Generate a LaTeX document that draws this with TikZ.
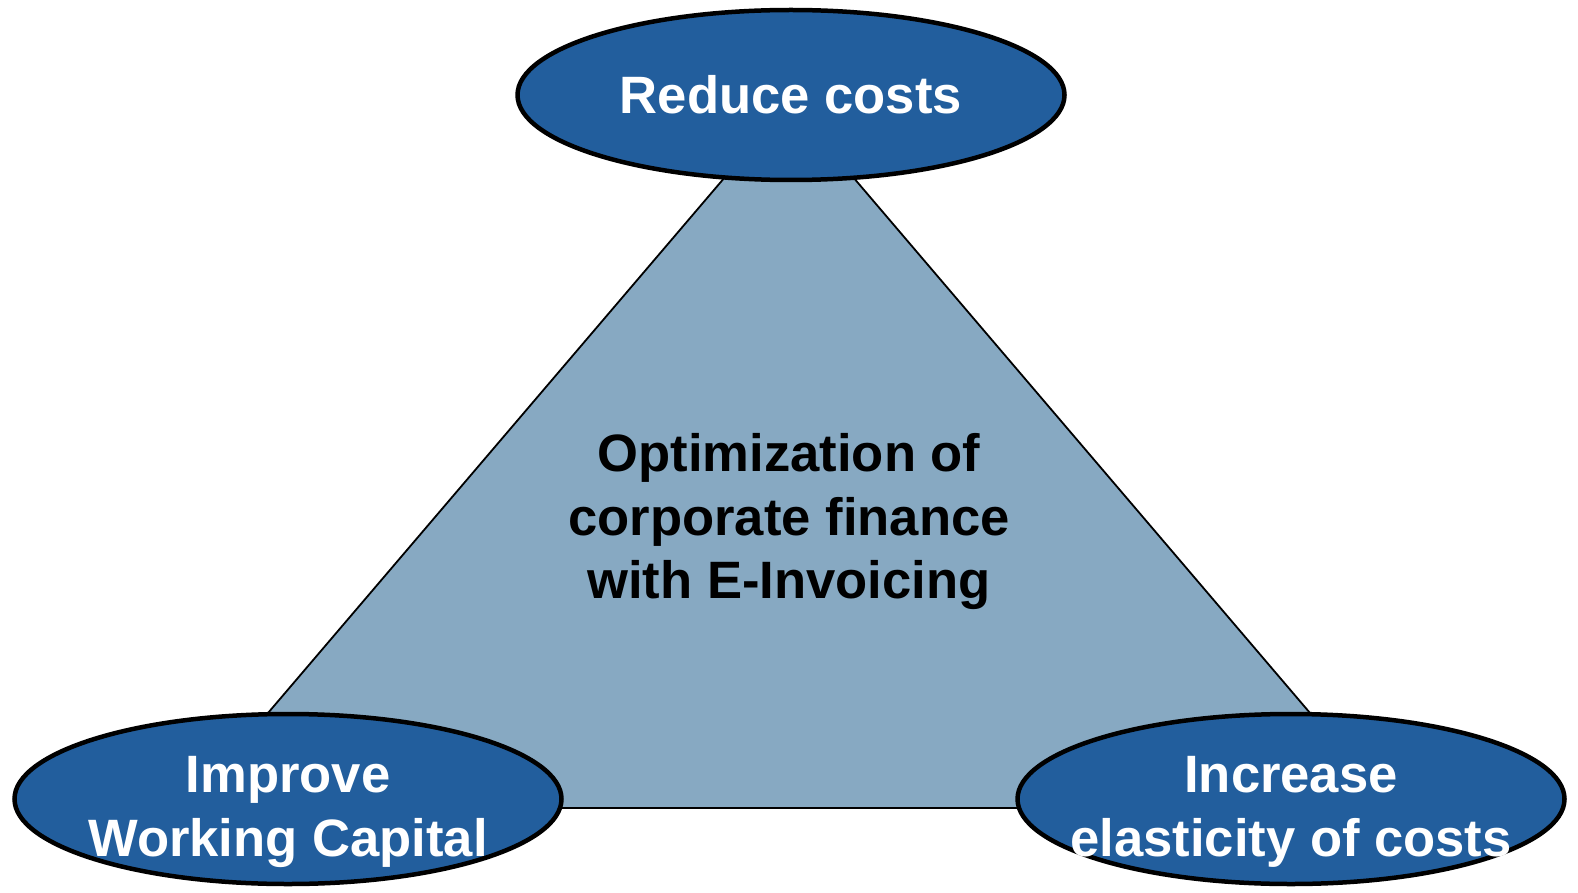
\documentclass[tikz,border=0pt]{standalone}
\usepackage{fontspec}
\setmainfont{Liberation Sans}
\usetikzlibrary{shapes.geometric}
\definecolor{goalblue}{HTML}{225E9D}
\definecolor{coreblue}{HTML}{87A9C2}
\begin{document}
\begin{tikzpicture}[x=1pt, y=-1pt, goal/.style = {draw, ellipse, line width=4.5pt, fill=goalblue, minimum width=547pt, minimum height=170pt, inner sep=0pt}, txt/.style = {align=center, inner sep=0pt, font=\bfseries\fontsize{52.6}{63.5}\selectfont}]
\useasboundingbox (0,0) rectangle (1578,893);
\coordinate (apex) at (789,102);
\coordinate (left) at (187,808);
\coordinate (right) at (1391,808);
\draw[line width=1.8pt, fill=coreblue] (apex) -- (left) -- (right) -- cycle;
\node[goal] (reduce) at (791,95) {};
\node[goal] (improve) at (288,799) {};
\node[goal] (increase) at (1291,799) {};
\node[txt, white] (reducetxt) at (reduce) {Reduce costs};
\node[txt, white, yshift=-13pt] (improvetxt) at (improve) {Improve\\Working Capital};
\node[txt, white, yshift=-13pt] (increasetxt) at (increase) {Increase\\elasticity of costs};
\node[txt] (core) at (789,522) {Optimization of\\corporate finance\\with E-Invoicing};
\end{tikzpicture}
\end{document}
